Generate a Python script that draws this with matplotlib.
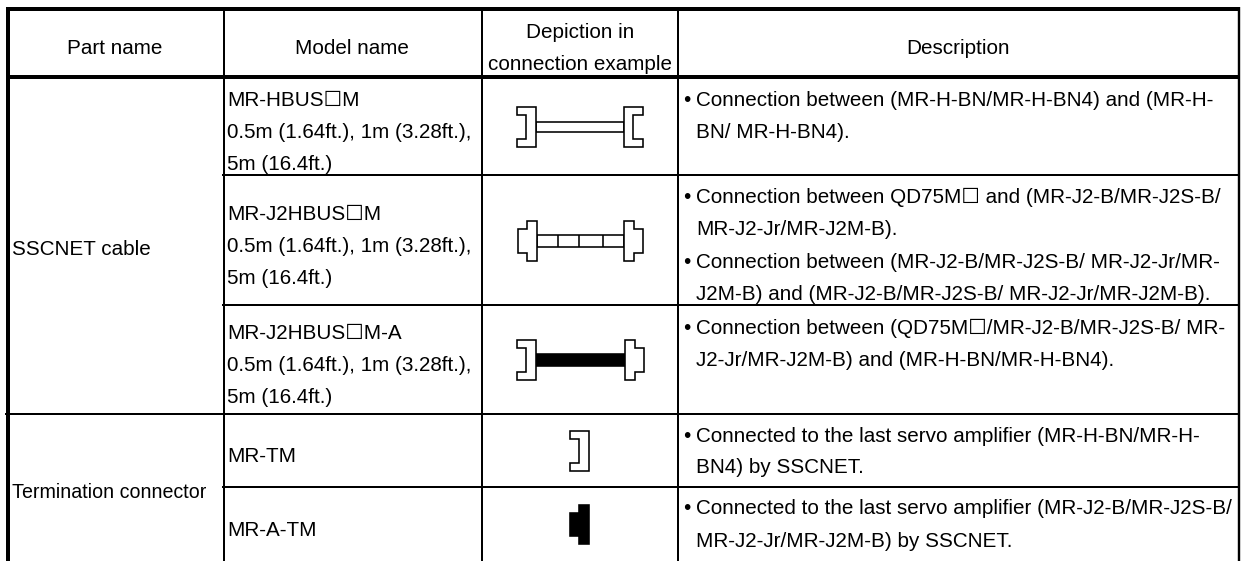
import matplotlib
matplotlib.use("Agg")
import matplotlib.pyplot as plt
from matplotlib.patches import Polygon, Rectangle

plt.rcParams['font.family'] = ['Liberation Sans', 'DejaVu Sans']

W, H = 1242, 561
FS = 14.9
INK = '#000000'
PX = 0.72  # one pixel in points at dpi 100

# ---- table structure (pixels) ----
col_edges = [8, 224, 482, 678, 1239]
row_edges = [9, 77, 175, 305, 414, 487, 561]

headers = [
    (115, 54, 'Part name'),
    (352, 54, 'Model name'),
    (580, 38, 'Depiction in'),
    (580, 70, 'connection example'),
    (958, 54, 'Description'),
]
part_names = [
    (12, 255, 'SSCNET cable', 14.9),
    (12, 498, 'Termination connector', 14.1),
]
model_names = [
    (106, 'MR-HBUS☐M'),
    (138, '0.5m (1.64ft.), 1m (3.28ft.),'),
    (170, '5m (16.4ft.)'),
    (220, 'MR-J2HBUS☐M'),
    (252, '0.5m (1.64ft.), 1m (3.28ft.),'),
    (284, '5m (16.4ft.)'),
    (339, 'MR-J2HBUS☐M-A'),
    (371, '0.5m (1.64ft.), 1m (3.28ft.),'),
    (403, '5m (16.4ft.)'),
    (462, 'MR-TM'),
    (536, 'MR-A-TM'),
]
bullets = [106, 203, 268, 334, 442, 514]
descriptions = [
    (106, 'Connection between (MR-H-BN/MR-H-BN4) and (MR-H-'),
    (138, 'BN/ MR-H-BN4).'),
    (203, 'Connection between QD75M☐ and (MR-J2-B/MR-J2S-B/'),
    (235, 'MR-J2-Jr/MR-J2M-B).'),
    (268, 'Connection between (MR-J2-B/MR-J2S-B/ MR-J2-Jr/MR-'),
    (300, 'J2M-B) and (MR-J2-B/MR-J2S-B/ MR-J2-Jr/MR-J2M-B).'),
    (334, 'Connection between (QD75M☐/MR-J2-B/MR-J2S-B/ MR-'),
    (366, 'J2-Jr/MR-J2M-B) and (MR-H-BN/MR-H-BN4).'),
    (442, 'Connected to the last servo amplifier (MR-H-BN/MR-H-'),
    (473, 'BN4) by SSCNET.'),
    (514, 'Connected to the last servo amplifier (MR-J2-B/MR-J2S-B/'),
    (547, 'MR-J2-Jr/MR-J2M-B) by SSCNET.'),
]

# ---- connector depictions (outlines in pixels, relative to their top-left) ----
plug_c_left = [(0, 0), (19, 0), (19, 40), (0, 40), (0, 32), (9, 32), (9, 8), (0, 8)]
plug_c_right = [(0, 0), (19, 0), (19, 8), (9, 8), (9, 32), (19, 32), (19, 40), (0, 40)]
plug_t_left = [(9, 0), (19, 0), (19, 40), (9, 40), (9, 32), (0, 32), (0, 8), (9, 8)]
plug_t_right = [(0, 0), (10, 0), (10, 8), (19, 8), (19, 32), (10, 32), (10, 40), (0, 40)]
term_block = [(9, 0), (19, 0), (19, 39), (9, 39), (9, 31), (0, 31), (0, 8), (9, 8)]

fig = plt.figure(figsize=(W / 100, H / 100), dpi=100, facecolor='white')
ax = fig.add_axes([0, 0, 1, 1])
ax.set_xlim(0, W)
ax.set_ylim(H, 0)
ax.axis('off')


def hline(y, x0, x1, px=2.0):
    ax.plot([x0, x1], [y, y], color='black', lw=px * PX, solid_capstyle='butt', zorder=3)


def vline(x, y0, y1, px=2.0):
    ax.plot([x, x], [y0, y1], color='black', lw=px * PX, solid_capstyle='butt', zorder=3)


def shape(outline, x, y, filled=False):
    pts = [(x + a, y + b) for a, b in outline]
    ax.add_patch(Polygon(pts, closed=True, facecolor='black' if filled else 'white',
                         edgecolor='black', lw=1.6 * PX, joinstyle='miter', zorder=4))


def cable(x0, x1, y0, y1, filled=False):
    ax.add_patch(Rectangle((x0, y0), x1 - x0, y1 - y0, facecolor='black' if filled else 'white',
                           edgecolor='black', lw=1.6 * PX, zorder=3))


# grid
vline(col_edges[0], row_edges[0] - 2, H, 4)
vline(col_edges[4], row_edges[0] - 2, H, 2.4)
for x in col_edges[1:4]:
    vline(x, row_edges[0], H, 2)
hline(row_edges[0], col_edges[0] - 2, col_edges[4] + 1, 4)
hline(row_edges[1], col_edges[0] - 2, col_edges[4] + 1, 4)
hline(row_edges[2], col_edges[1] - 2, col_edges[4], 2)
hline(row_edges[3], col_edges[1] - 2, col_edges[4], 2)
hline(row_edges[4], col_edges[0] - 3, col_edges[4], 2)
hline(row_edges[5], col_edges[1] - 2, col_edges[4], 2)

# text
for x, y, s in headers:
    ax.text(x, y, s, ha='center', va='baseline', fontsize=FS, color=INK)
for x, y, s, fs in part_names:
    ax.text(x, y, s, ha='left', va='baseline', fontsize=fs, color=INK)
for y, s in model_names:
    ax.text(227, y, s, ha='left', va='baseline', fontsize=FS, color=INK)
for y in bullets:
    ax.text(683, y, '•', ha='left', va='baseline', fontsize=FS, color=INK)
for y, s in descriptions:
    ax.text(696, y, s, ha='left', va='baseline', fontsize=FS, color=INK)

# depictions
cable(536, 624, 122, 132)
shape(plug_c_left, 517, 107)
shape(plug_c_right, 624, 107)

cable(537, 624, 235, 247)
for x in (558, 579, 603):
    vline(x, 235, 247, 1.6)
shape(plug_t_left, 518, 221)
shape(plug_t_right, 624, 221)

cable(535, 626, 354, 366, filled=True)
shape(plug_c_left, 517, 340)
shape(plug_t_right, 625, 340)

shape(plug_c_left, 570, 431)
shape(term_block, 570, 505, filled=True)

fig.savefig('out.png', dpi=100, facecolor='white')
